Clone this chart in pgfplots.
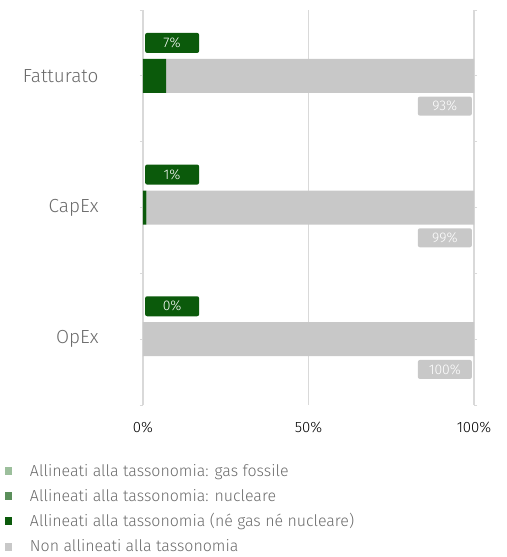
\documentclass[border=0pt]{standalone}
\usepackage{pgfplots}
\pgfplotsset{compat=1.18}
\usepackage{fontspec}
\setmainfont{Fira Sans}[UprightFont=* Light]
\definecolor{dkgreen}{HTML}{0B5A0B}
\definecolor{midgreen}{HTML}{5B8F5B}
\definecolor{ltgreen}{HTML}{9CBF9C}
\definecolor{barGray}{HTML}{C8C8C8}
\definecolor{gridGray}{HTML}{D9D9D9}
\definecolor{txtGray}{HTML}{6A6A6A}
\begin{document}
\begin{tikzpicture}
\useasboundingbox (-143bp,-152bp) rectangle (364bp,405bp);
\begin{axis}[
    scale only axis,
    width=331bp, height=395bp,
    xbar stacked,
    bar width=34bp,
    xmin=0, xmax=100,
    ymin=-0.5, ymax=2.5,
    y dir=reverse,
    axis line style={draw=none},
    xmajorgrids,
    grid style={gridGray, line width=1.3pt},
    xtick={0,50,100},
    xticklabels={0\%,50\%,100\%},
    xtick style={draw=none},
    xticklabel style={font=\fontsize{15}{18}\selectfont, black, yshift=-10bp},
    ytick={0,1,2},
    yticklabels={Fatturato,CapEx,OpEx},
    extra y ticks={-0.5,0.5,1.5,2.5},
    extra y tick labels={},
    extra y tick style={grid=none},
    ytick style={gridGray, line width=0.8pt},
    major tick length=3bp,
    tick align=outside,
    yticklabel style={font=\fontsize{19}{22}\selectfont, txtGray, xshift=-38bp},
    legend style={draw=none, fill=none, inner sep=0pt, outer sep=0pt,
        at={(rel axis cs:0,0)}, anchor=north west, xshift=-138bp, yshift=-59bp,
        font=\fontsize{16}{19}\selectfont, text=txtGray,
        row sep=11.2bp,
        nodes={inner sep=0pt, text height=12bp, text depth=2bp},
        /tikz/every odd column/.append style={column sep=18bp}},
    legend cell align=left,
    legend image code/.code={\fill (0bp,-4bp) rectangle (7bp,4bp);},
    clip=false,
]
\addplot[fill=ltgreen, draw=none] coordinates {(0,0) (0,1) (0,2)};
\addplot[fill=midgreen, draw=none] coordinates {(0,0) (0,1) (0,2)};
\addplot[fill=dkgreen, draw=none] coordinates {(7,0) (1,1) (0,2)};
\addplot[fill=barGray, draw=none] coordinates {(93,0) (99,1) (100,2)};
\legend{Allineati alla tassonomia: gas fossile,
        Allineati alla tassonomia: nucleare,
        Allineati alla tassonomia (né gas né nucleare),
        Non allineati alla tassonomia}
\foreach \yy/\lo/\hi in {0/7\%/93\%, 1/1\%/99\%, 2/0\%/100\%} {
  \edef\temp{\noexpand\node[fill=dkgreen, text=white, rounded corners=2bp,
      minimum width=54bp, minimum height=20bp, inner sep=0pt,
      font=\noexpand\fontsize{14}{16}\noexpand\selectfont]
      at (axis cs:8.8,\yy-0.25) {\lo};
    \noexpand\node[fill=barGray, text=white, rounded corners=2bp,
      minimum width=54bp, minimum height=19bp, inner sep=0pt,
      font=\noexpand\fontsize{14}{16}\noexpand\selectfont]
      at (axis cs:91.2,\yy+0.23) {\hi};}
  \temp
}
\end{axis}
\end{tikzpicture}
\end{document}
